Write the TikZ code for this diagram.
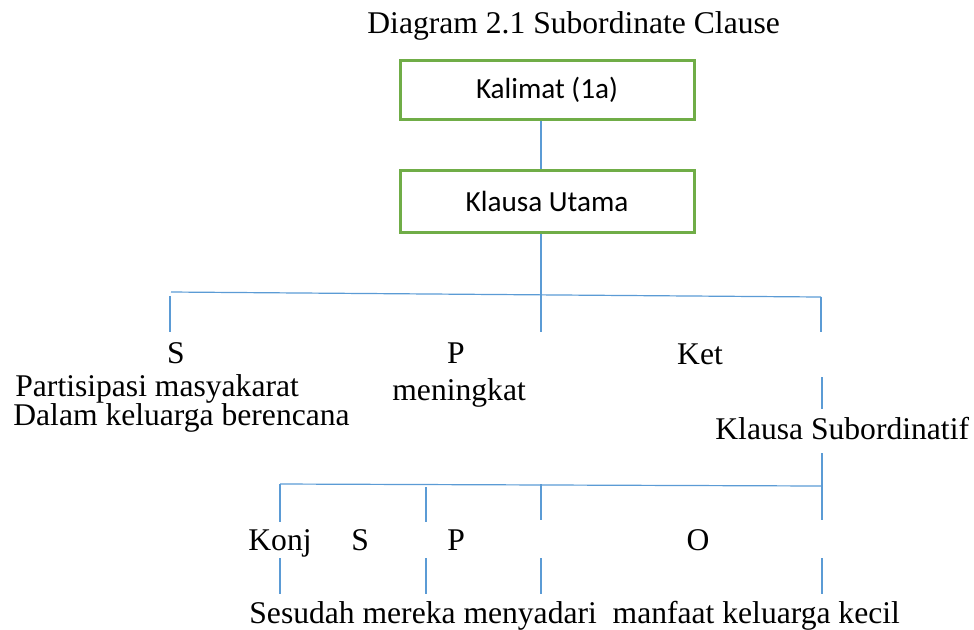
\documentclass[tikz,border=0pt]{standalone}
\usepackage{fontspec}
\setmainfont{Liberation Serif}
\newfontfamily\boxfont{Carlito}
\definecolor{boxgreen}{HTML}{70AD47}
\definecolor{linkblue}{HTML}{5B9BD5}
\begin{document}
\begin{tikzpicture}[x=0.5pt,y=-0.5pt,
  clausebox/.style={draw=boxgreen,line width=1.5pt,minimum width=147pt,
    font=\boxfont\fontsize{14.6}{17}\selectfont,inner sep=0pt},
  word/.style={inner sep=0pt,font=\fontsize{15.8}{18}\selectfont},
  wl/.style={word,anchor=base west},
  wc/.style={word,anchor=base},
  link/.style={draw=linkblue,line width=0.6pt}]
\useasboundingbox (0,0) rectangle (974,629);

% title
\node[wl] (title) at (367,33) {Diagram 2.1 Subordinate Clause};

% boxed constituents
\node[clausebox,minimum height=29.5pt] (kal) at (547,89.5) {Kalimat (1a)};
\node[clausebox,minimum height=31pt] (utama) at (547,201) {Klausa Utama};
\draw[link] ([xshift=-3pt]kal.south) -- ([xshift=-3pt]utama.north);

% main clause branching
\coordinate (trunkEnd) at (541,332);
\coordinate (barL) at (171,292);
\coordinate (barR) at (821,297);
\coordinate (sTop) at (170,296);
\coordinate (sEnd) at (170,332);
\coordinate (ketEnd) at (821,332);
\draw[link] ([xshift=-3pt]utama.south) -- (trunkEnd);
\draw[link] (barL) -- (barR);
\draw[link] (sTop) -- (sEnd);
\draw[link] (barR) -- (ketEnd);

\node[wc] (s1) at (176,363) {S};
\node[wc] (p1) at (456,363) {P};
\node[wc] (ket) at (700,364) {Ket};
\node[wl] (partisipasi) at (15,396) {Partisipasi masyakarat};
\node[wl] (dalam) at (13,425) {Dalam keluarga berencana};
\node[wl] (meningkat) at (392,400) {meningkat};
\node[wl] (subord) at (715,439) {Klausa Subordinatif};

\coordinate (ketA) at (822,377);
\coordinate (ketB) at (822,409);
\draw[link] (ketA) -- (ketB);

% subordinate clause branching
\coordinate (subA) at (822,453);
\coordinate (subB) at (822,520);
\coordinate (barL2) at (280,484);
\coordinate (barR2) at (822,486);
\draw[link] (subA) -- (subB);
\draw[link] (barL2) -- (barR2);

\coordinate (konjB) at (280,522);
\coordinate (spA) at (426,487);
\coordinate (spB) at (426,522);
\coordinate (poA) at (541,484);
\coordinate (poB) at (541,520);
\draw[link] (barL2) -- (konjB);
\draw[link] (spA) -- (spB);
\draw[link] (poA) -- (poB);

\node[wl] (konj) at (248,550) {Konj};
\node[wl] (s2) at (351,550) {S};
\node[wl] (p2) at (447,550) {P};
\node[wc] (o2) at (698,550) {O};

\foreach \x/\n in {280/a,426/b,541/c,822/d}{
  \coordinate (low\n A) at (\x,558);
  \coordinate (low\n B) at (\x,594);
  \draw[link] (low\n A) -- (low\n B);
}

\node[wl] (sesudah) at (249,623) {Sesudah mereka menyadari\ \ manfaat keluarga kecil};
\end{tikzpicture}
\end{document}
